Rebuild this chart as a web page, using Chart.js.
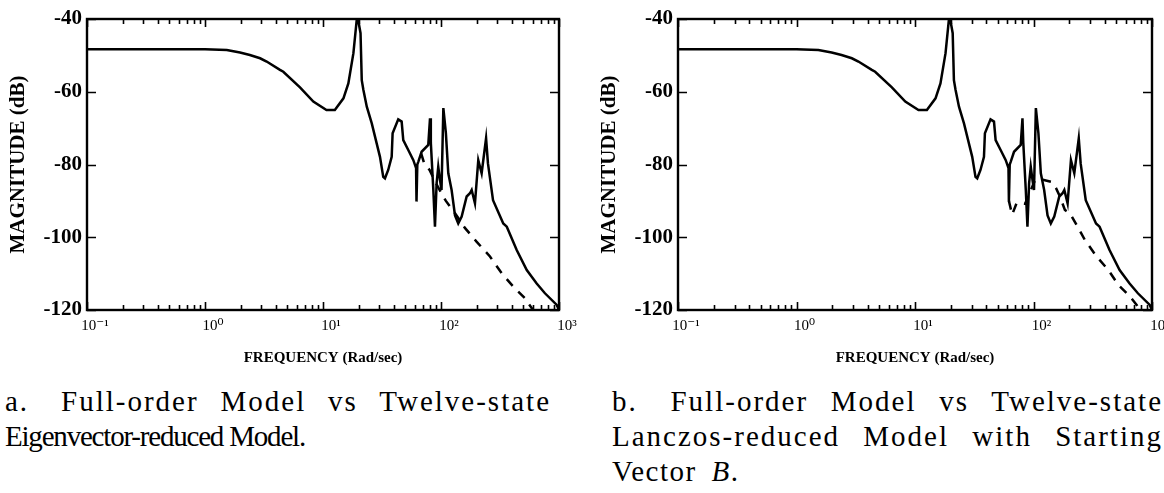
<!DOCTYPE html>
<html>
<head>
<meta charset="utf-8">
<script src="https://cdn.jsdelivr.net/npm/chart.js@4.4.1/dist/chart.umd.min.js"></script>
<style>
  html, body { margin: 0; padding: 0; background: #fff; }
  #page { position: relative; width: 1164px; height: 493px; overflow: hidden; }
  canvas { position: absolute; top: 0; }
  #chart-a { left: 0; }
  #chart-b { left: 591px; }
  .caption {
    position: absolute;
    top: 384px;
    font-family: "Liberation Serif", "DejaVu Serif", serif;
    font-size: 29px;
    line-height: 35px;
    color: #000;
  }
  .caption div { white-space: nowrap; }
  .caption .full {
    text-align: justify;
    text-align-last: justify;
    white-space: normal;
    letter-spacing: 2px;
  }
  .caption .tight { letter-spacing: -1.2px; }
  .caption .wide { letter-spacing: 1.5px; word-spacing: 6px; }
  .caption .lbl { margin-right: 10px; }
  #cap-a { left: 5px; width: 546px; }
  #cap-b { left: 612px; width: 551px; }
</style>
</head>
<body>
<div id="page">
  <canvas id="chart-a" width="580" height="372"></canvas>
  <canvas id="chart-b" width="580" height="372"></canvas>
  <div class="caption" id="cap-a">
    <div class="full"><span class="lbl">a.</span> Full-order Model vs Twelve-state</div>
    <div class="tight">Eigenvector-reduced Model.</div>
  </div>
  <div class="caption" id="cap-b">
    <div class="full"><span class="lbl">b.</span> Full-order Model vs Twelve-state</div>
    <div class="full">Lanczos-reduced Model with Starting</div>
    <div class="wide">Vector <i>B</i>.</div>
  </div>
</div>
<script>
// Full-order model (same curve in both panels), frequency in rad/sec, magnitude in dB
const fullFreq = [
  0.1, 0.2, 0.5, 1.0, 1.53, 1.98, 2.4, 2.93, 3.33, 4.32, 4.61, 6.38, 8.28, 10.7, 12.6,
  14.9, 16.4, 18.1, 19.3, 19.8, 20.8, 21.3, 22.0, 23.5, 25.9, 28.5, 30.4, 32.4, 33.5, 35.7,
  38.2, 38.9, 43.4, 46.4, 47.9, 52.8, 58.3, 61.5, 62.0, 63.0, 64.3, 68.5, 78.0, 80.7, 82.0,
  86.1, 88.9, 91.8, 94.8, 98.1, 101, 104.7, 110, 115.3, 123, 131.4, 140, 149.7, 165, 176,
  182, 194, 207, 221, 241, 250, 276, 337, 361, 438, 533, 647, 760, 957, 1000
];
const fullMag = [
  -48.3, -48.3, -48.3, -48.3, -48.5, -49.2, -49.9, -50.8, -51.7, -54.0, -54.5, -58.8, -62.7, -65.0, -65.0,
  -61.8, -57.7, -49.4, -40.3, -40.0, -43.9, -56.8, -59.5, -64.1, -68.7, -74.2, -77.9, -83.4, -83.8, -81.5,
  -77.9, -71.4, -67.6, -68.2, -73.3, -76.0, -78.8, -81.0, -90.2, -80.0, -79.2, -76.5, -74.6, -67.3, -74.0,
  -87.0, -97.1, -85.2, -80.6, -84.3, -87.0, -64.5, -71.4, -82.4, -87.0, -94.0, -96.2, -94.3, -88.8, -87.9,
  -87.0, -90.7, -78.8, -82.4, -72.8, -79.7, -89.8, -96.2, -97.1, -103.5, -109.0, -112.7, -115.4, -118.6, -120.0
];

// Twelve-state eigenvector-reduced model (panel a), dashed
const eigFreq = [68, 72, 80, 90, 104.6, 110, 131.4, 160, 200, 260, 327, 410, 515, 550, 603];
const eigMag = [-77.0, -79.7, -81.5, -85.0, -88.8, -90.0, -93.4, -97.5, -101.2, -105.3, -109.9, -113.6, -116.8, -118.2, -120.0];

// Twelve-state Lanczos-reduced model, starting vector B (panel b), dashed
const lanFreq = [62, 66, 72, 85, 95, 103, 120, 142, 155, 167, 184, 203, 231, 272, 341, 428, 520, 652, 742, 793];
const lanMag = [-90.0, -93.8, -90.6, -90.8, -87.0, -84.3, -84.2, -84.8, -86.5, -88.8, -92.5, -93.4, -96.6, -100.8, -105.3, -109.0, -113.1, -116.3, -118.6, -120.0];

// Axis ticks
const decadeTicks = [0.1, 1, 10, 100, 1000];
const decadeLabels = ["10\u207B\u00B9", "10\u2070", "10\u00B9", "10\u00B2", "10\u00B3"];
const magTicks = [-40, -60, -80, -100, -120];

Chart.defaults.font.family = '"Liberation Serif", "DejaVu Serif", serif';
Chart.defaults.color = "#000";

function toPoints(xs, ys) {
  return xs.map((x, i) => ({ x, y: ys[i] }));
}

// every 1..9 x 10^n between 0.1 and 1000, majors at the decades
function logTickValues() {
  const out = [];
  for (let n = -1; n < 3; n++) {
    for (let k = 1; k < 10; k++) out.push(+(k * Math.pow(10, n)).toPrecision(3));
  }
  out.push(1000);
  return out;
}

// plot frame + inward tick marks on all four sides
const framePlugin = {
  id: "frame",
  afterDatasetsDraw(chart) {
    const { ctx, chartArea: a, scales: { x, y } } = chart;
    ctx.save();
    ctx.strokeStyle = "#000";
    ctx.lineWidth = 2.4;
    ctx.strokeRect(a.left, a.top, a.right - a.left, a.bottom - a.top);
    ctx.lineWidth = 1.6;
    ctx.beginPath();
    x.ticks.forEach((t) => {
      const px = Math.round(x.getPixelForValue(t.value)) + 0.5;
      const len = decadeTicks.includes(t.value) ? 8 : 5;
      ctx.moveTo(px, a.bottom);
      ctx.lineTo(px, a.bottom - len);
      ctx.moveTo(px, a.top);
      ctx.lineTo(px, a.top + len);
    });
    y.ticks.forEach((t) => {
      const py = Math.round(y.getPixelForValue(t.value)) + 0.5;
      ctx.moveTo(a.left, py);
      ctx.lineTo(a.left + 9, py);
      ctx.moveTo(a.right, py);
      ctx.lineTo(a.right - 9, py);
    });
    ctx.stroke();
    ctx.restore();
  },
};

function makePanel(id, dashFreq, dashMag, rightPad) {
  return new Chart(document.getElementById(id), {
    type: "line",
    data: {
      datasets: [
        {
          data: toPoints(fullFreq, fullMag),
          borderColor: "#000",
          borderWidth: 2.5,
          pointRadius: 0,
          tension: 0,
        },
        {
          data: toPoints(dashFreq, dashMag),
          borderColor: "#000",
          borderWidth: 2.5,
          borderDash: [9, 8],
          pointRadius: 0,
          tension: 0,
        },
      ],
    },
    options: {
      responsive: false,
      animation: false,
      layout: { padding: { top: 19, right: rightPad, left: 0, bottom: 0 } },
      plugins: { legend: { display: false }, tooltip: { enabled: false } },
      scales: {
        x: {
          type: "logarithmic",
          min: 0.1,
          max: 1000,
          grid: { display: false, drawTicks: false },
          border: { display: false },
          afterBuildTicks: (s) => {
            s.ticks = logTickValues().map((v) => ({ value: v }));
          },
          afterFit: (s) => {
            s.height = 62;
          },
          ticks: {
            autoSkip: false,
            maxRotation: 0,
            padding: 7,
            labelOffset: 8,
            font: { size: 15 },
            callback: (v) => {
              const i = decadeTicks.indexOf(+v);
              return i >= 0 ? decadeLabels[i] : "";
            },
          },
          title: {
            display: true,
            text: "FREQUENCY (Rad/sec)",
            font: { size: 15, weight: "bold" },
            padding: { top: 0, bottom: 5 },
          },
        },
        y: {
          min: -120,
          max: -40,
          grid: { display: false, drawTicks: false },
          border: { display: false },
          afterBuildTicks: (s) => {
            s.ticks = magTicks.map((v) => ({ value: v }));
          },
          afterFit: (s) => {
            s.width = 87;
          },
          ticks: {
            padding: 5,
            font: { size: 21, weight: "bold" },
          },
          title: {
            display: true,
            text: "MAGNITUDE (dB)",
            font: { size: 21, weight: "bold" },
            padding: { top: 6, bottom: 0 },
          },
        },
      },
    },
    plugins: [framePlugin],
  });
}

makePanel("chart-a", eigFreq, eigMag, 21);
makePanel("chart-b", lanFreq, lanMag, 19);
</script>
</body>
</html>
